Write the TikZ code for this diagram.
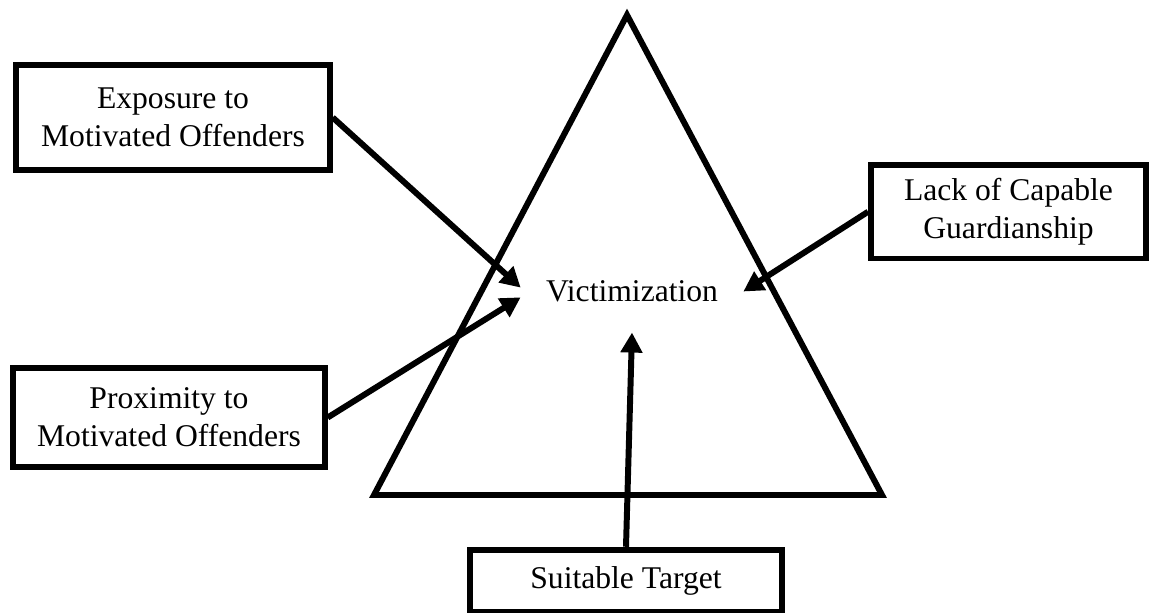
\documentclass[tikz,border=0pt]{standalone}
\usepackage{fontspec}
\setmainfont{Liberation Serif}
\usetikzlibrary{arrows.meta}

\begin{document}
\begin{tikzpicture}[x=0.02cm, y=-0.02cm,
  factorbox/.style={draw, line width=3.4pt, align=center, font=\fontsize{18}{21.6}\selectfont},
  link/.style={-{Triangle[length=0.4cm, width=0.42cm]}, line width=3.4pt}]
\useasboundingbox (0,0) rectangle (1149,612);
\clip (0,0) rectangle (1149,612);

% triangle
\draw[line width=3.4pt, line join=miter] (627,15) -- (882,495) -- (374,495) -- cycle;

\node[font=\fontsize{18}{21.6}\selectfont, inner xsep=0.5cm, inner ysep=0.6cm] (victim) at (632,291.5) {Victimization};

\node[factorbox, minimum width=6.27cm, minimum height=2.1cm] (expo) at (173,117.5) {Exposure to\\Motivated Offenders};
\node[factorbox, minimum width=6.23cm, minimum height=1.98cm] (prox) at (169,417.5) {Proximity to\\Motivated Offenders};
\node[factorbox, minimum width=5.5cm, minimum height=1.87cm] (guard) at (1008.5,211.75) {Lack of Capable\\Guardianship};
\node[factorbox, minimum width=6.24cm, minimum height=1.25cm] (target) at (626,581) {Suitable Target};

\draw[link] (expo.east) -- (victim.178);
\draw[link] (prox.east) -- (victim.183);
\draw[link] (guard.west) -- (victim.east);
\draw[link] (target.north) -- (victim.south);
\end{tikzpicture}
\end{document}
